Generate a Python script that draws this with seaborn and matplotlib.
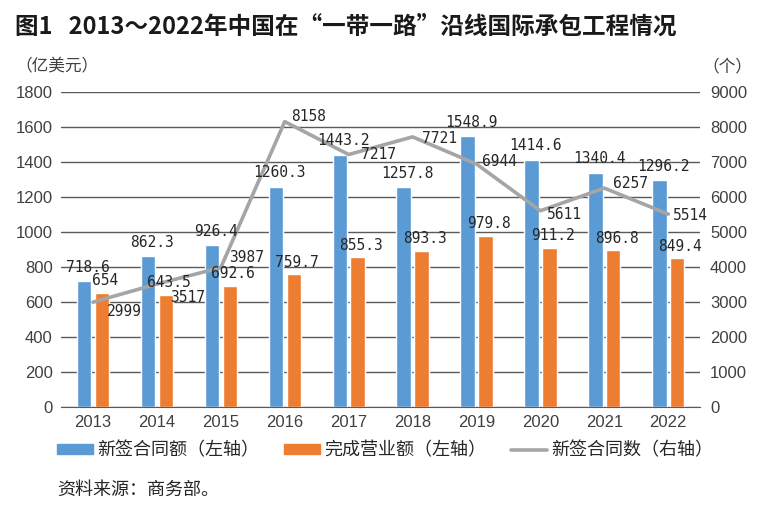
import numpy as np
import pandas as pd
import matplotlib
matplotlib.use("Agg")
import matplotlib.pyplot as plt
from matplotlib.patches import Patch
from matplotlib.lines import Line2D
import seaborn as sns

# 数据
years = ["2013", "2014", "2015", "2016", "2017", "2018", "2019", "2020", "2021", "2022"]
new_contract_amt = [718.6, 862.3, 926.4, 1260.3, 1443.2, 1257.8, 1548.9, 1414.6, 1340.4, 1296.2]
completed_amt = [654, 643.5, 692.6, 759.7, 855.3, 893.3, 979.8, 911.2, 896.8, 849.4]
new_contract_cnt = [2999, 3517, 3987, 8158, 7217, 7721, 6944, 5611, 6257, 5514]
amt_labels = ["718.6", "862.3", "926.4", "1260.3", "1443.2", "1257.8", "1548.9", "1414.6", "1340.4", "1296.2"]
done_labels = ["654", "643.5", "692.6", "759.7", "855.3", "893.3", "979.8", "911.2", "896.8", "849.4"]

# 折线标签偏移（像素）
line_lbl_off = [(31, -9), (31, -13), (26, 10), (24, 5), (30, 0),
                (27, -2), (23, 3), (24, -4), (26, 5), (22, -1)]

BLUE = "#5B9BD5"
ORANGE = "#ED7D31"
GRAY = "#A5A5A5"
TXT = "#262626"
GRID = "#5a5a5a"

sns.set_style("white")
plt.rcParams["font.family"] = ["Noto Sans CJK SC", "DejaVu Sans"]
NUMFONT = ["Liberation Sans Narrow", "Liberation Sans", "DejaVu Sans"]

df = pd.DataFrame({
    "年份": years * 2,
    "值": new_contract_amt + completed_amt,
    "系列": ["新签合同额"] * 10 + ["完成营业额"] * 10,
})

fig = plt.figure(figsize=(7.62, 5.07), dpi=100)
ax = fig.add_axes([0.080, 0.197, 0.839, 0.6213])

sns.barplot(data=df, x="年份", y="值", hue="系列", palette=[BLUE, ORANGE],
            width=0.56, gap=0.2, ax=ax, legend=False, saturation=1)

ax.set_ylim(0, 1800)
ax.set_yticks(np.arange(0, 1801, 200))
ax.set_xlim(-0.5, 9.5)
ax.set_xlabel("")
ax.set_ylabel("")
ax.grid(axis="y", color=GRID, lw=1)
ax.set_axisbelow(True)
for s in ["top", "left", "right"]:
    ax.spines[s].set_visible(False)
ax.spines["bottom"].set_color(GRID)
ax.tick_params(axis="both", length=0, colors="#404040")
ax.tick_params(axis="y", pad=6)
ax.tick_params(axis="x", pad=6)
for t in ax.get_yticklabels() + ax.get_xticklabels():
    t.set_family(NUMFONT)
    t.set_fontsize(12)

ax2 = ax.twinx()
sns.lineplot(x=np.arange(10), y=new_contract_cnt, color=GRAY, lw=2.6, ax=ax2)
ax2.set_ylim(0, 9000)
ax2.set_yticks(np.arange(0, 9001, 1000))
ax2.set_xlim(-0.5, 9.5)
for s in ["top", "left", "right", "bottom"]:
    ax2.spines[s].set_visible(False)
ax2.tick_params(axis="y", length=0, colors="#404040", pad=7)
for t in ax2.get_yticklabels():
    t.set_family(NUMFONT)
    t.set_fontsize(12)

lblfont = dict(family="DejaVu Sans Mono", fontsize=10.5, color=TXT, ha="center", va="center")
for i in range(10):
    ax2.annotate(amt_labels[i], xy=(i - 0.08, new_contract_amt[i] * 5), xytext=(0, 14),
                 textcoords="offset pixels", **lblfont)
    ax2.annotate(done_labels[i], xy=(i + 0.19, completed_amt[i] * 5), xytext=(0, 12),
                 textcoords="offset pixels", **lblfont)
    ax2.annotate(str(new_contract_cnt[i]), xy=(i, new_contract_cnt[i]), xytext=line_lbl_off[i],
                 textcoords="offset pixels", **lblfont)

fig.text(0.02, 0.948, "图1   2013～2022年中国在“一带一路”沿线国际承包工程情况",
         fontsize=17, fontweight="bold", color="#1a1a1a", va="center")
fig.text(0.02, 0.868, "（亿美元）", fontsize=12, color="#404040", va="center")
fig.text(0.922, 0.868, "（个）", fontsize=12, color="#404040", va="center")

handles = [Patch(color=BLUE), Patch(color=ORANGE), Line2D([], [], color=GRAY, lw=2.6)]
names = ["新签合同额（左轴）", "完成营业额（左轴）", "新签合同数（右轴）"]
fig.legend(handles, names, loc="center left", bbox_to_anchor=(0.075, 0.112), ncol=3,
           frameon=False, fontsize=13, handlelength=2.0, handleheight=0.45,
           handletextpad=0.2, columnspacing=1.4, labelcolor="#262626",
           borderpad=0, borderaxespad=0)
fig.text(0.075, 0.034, "资料来源：商务部。", fontsize=13, color="#262626", va="center")

fig.savefig("out.png", dpi=100)
